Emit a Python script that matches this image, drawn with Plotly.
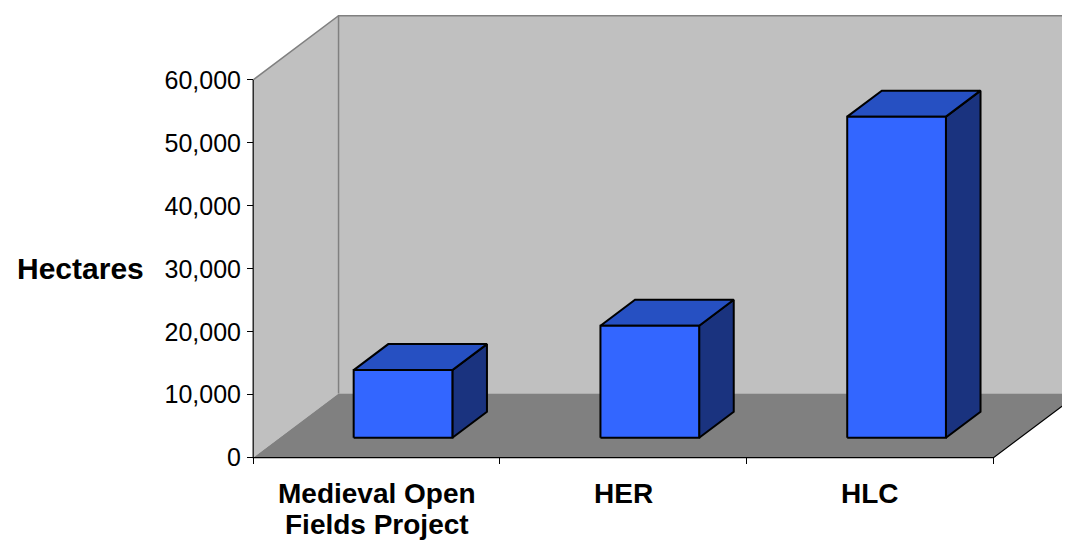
import plotly.graph_objects as go

# data
categories = ["Medieval Open Fields Project", "HER", "HLC"]
label_lines = [["Medieval Open", "Fields Project"], ["HER"], ["HLC"]]
hectares = [10750, 17800, 51000]
y_ticks = [0, 10000, 20000, 30000, 40000, 50000, 60000]
y_max = 60000

# fake 3d: depth vector expressed in axis units
DX, DY = 0.346, 10200
F0, F1 = 0.31, 0.715      # where the bars sit inside the floor depth
BAR_W = 0.4
n = len(categories)

FONT = "Arial, Liberation Sans, sans-serif"

fig = go.Figure()


def poly(xs, ys, fill, line_color=None, width=0):
    fig.add_trace(go.Scatter(
        x=xs + xs[:1], y=ys + ys[:1],
        mode="lines", fill="toself", fillcolor=fill,
        line=dict(color=line_color or fill, width=width),
        hoverinfo="skip", showlegend=False
    ))


def line(xs, ys, color, width=1):
    fig.add_trace(go.Scatter(
        x=xs, y=ys, mode="lines",
        line=dict(color=color, width=width),
        hoverinfo="skip", showlegend=False
    ))


# walls and floor
poly([0, 0, DX, DX], [0, y_max, y_max + DY, DY], "#C0C0C0")
poly([DX, DX, n + DX, n + DX], [DY, y_max + DY, y_max + DY, DY], "#C0C0C0")
poly([0, n, n + DX, DX], [0, 0, DY, DY], "#808080")

# wall edges
line([0, DX, n + DX], [y_max, y_max + DY, y_max + DY], "#808080", 1.5)
line([DX, DX], [DY, y_max + DY], "#808080", 1.5)

# front axis lines
line([0, 0, n, n + DX], [y_max, 0, 0, DY], "black", 1.2)

# 3d bars
bx, by = (F1 - F0) * DX, (F1 - F0) * DY
for i, v in enumerate(hectares):
    x0 = i + (1 - BAR_W) / 2 + F0 * DX
    x1 = x0 + BAR_W
    yb = F0 * DY
    yt = v + F0 * DY
    poly([x1, x1 + bx, x1 + bx, x1], [yb, yb + by, yt + by, yt], "#1A337F", "black", 2)
    poly([x0, x1, x1 + bx, x0 + bx], [yt, yt, yt + by, yt + by], "#2650C2", "black", 2)
    poly([x0, x1, x1, x0], [yb, yb, yt, yt], "#3366FF", "black", 2)

# category labels, one annotation per line
for i, lines in enumerate(label_lines):
    for k, txt in enumerate(lines):
        fig.add_annotation(
            x=i + 0.5, xref="x", y=0, yref="paper",
            text=f"<b>{txt}</b>", showarrow=False,
            xanchor="center", yanchor="middle",
            yshift=-29 - 31 * k,
            font=dict(family=FONT, size=28, color="black")
        )

fig.add_annotation(
    x=0, xref="paper", y=30000, yref="y",
    text="<b>Hectares</b>", showarrow=False,
    xanchor="center", yanchor="middle", xshift=-167,
    font=dict(family=FONT, size=30, color="black")
)

# page body adds an 8px margin, so the figure is 8px smaller each way
fig.update_layout(
    width=1062, height=542,
    margin=dict(l=239, r=0, t=2, b=86),
    plot_bgcolor="white", paper_bgcolor="white",
    font=dict(family=FONT, color="black"),
    showlegend=False,
    xaxis=dict(
        range=[-0.025, 3.31],
        tickvals=list(range(n + 1)), ticktext=[""] * (n + 1),
        ticks="inside", ticklen=6, tickcolor="black", tickwidth=1,
        showgrid=False, zeroline=False, showline=False, fixedrange=True
    ),
    yaxis=dict(
        range=[-1000, 71100],
        tickvals=y_ticks, tickformat=",",
        ticks="inside", ticklen=6, tickcolor="black", tickwidth=1,
        ticklabelstandoff=5,
        tickfont=dict(family=FONT, size=25, color="black"),
        showgrid=False, zeroline=False, showline=False, fixedrange=True
    ),
)

fig.write_html("out.html")
